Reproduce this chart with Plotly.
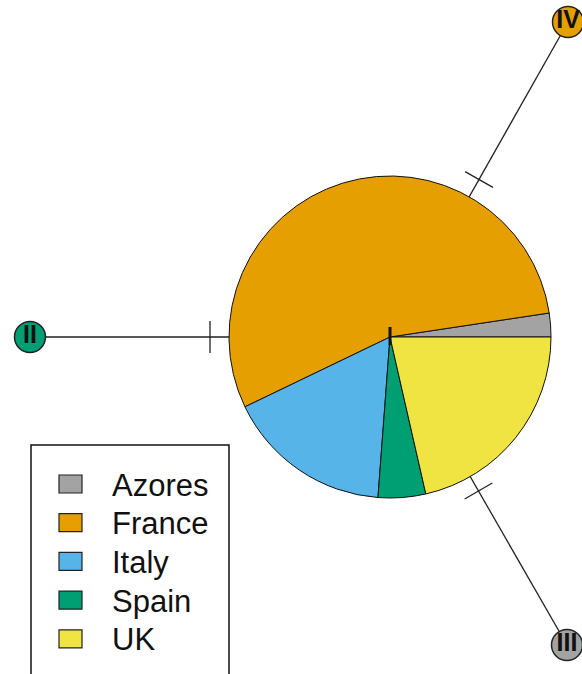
import plotly.graph_objects as go

W, H = 582, 674

# Haplotype I (hub) composition by population
categories = ["Azores", "France", "Italy", "Spain", "UK"]
counts = [1, 23, 7, 2, 9]
colors = ["#A3A3A3", "#E69F00", "#56B4E9", "#009E73", "#F0E442"]

# Hub position and radius (pixel-like plot units)
hub_x, hub_y, hub_r = 390, 337, 161

# Satellite haplotypes
node_names = ["II", "IV", "III"]
node_x = [30, 568, 567]
node_y = [337, 22, 645]
node_colors = ["#009E73", "#E69F00", "#A3A3A3"]
node_r = 15.5

fig = go.Figure()

# Links from hub to each satellite, with a mutation tick at the midpoint
shapes = []
for nx, ny in zip(node_x, node_y):
    fig.add_trace(go.Scatter(x=[hub_x, nx], y=[hub_y, ny], mode="lines",
                             line=dict(color="#222222", width=1.3),
                             hoverinfo="skip", showlegend=False))
    mx, my = (hub_x + nx) / 2, (hub_y + ny) / 2
    dx, dy = nx - hub_x, ny - hub_y
    L = (dx ** 2 + dy ** 2) ** 0.5
    px, py = -dy / L * 16, dx / L * 16
    fig.add_trace(go.Scatter(x=[mx - px, mx + px], y=[my - py, my + py], mode="lines",
                             line=dict(color="#222222", width=1.3),
                             hoverinfo="skip", showlegend=False))

# Satellite nodes
fig.add_trace(go.Scatter(
    x=node_x, y=node_y, mode="markers+text", text=node_names,
    textposition="middle center",
    textfont=dict(family="Liberation Sans Narrow, Liberation Sans, Arial", size=25, color="#111111",
                  weight="bold"),
    marker=dict(size=2 * node_r, color=node_colors, line=dict(color="#222222", width=1.5)),
    hoverinfo="skip", showlegend=False, cliponaxis=False))

# Hub pie: first slice starts at 3 o'clock and slices run counterclockwise
first_share = 360.0 * counts[0] / sum(counts)
fig.add_trace(go.Pie(
    labels=categories, values=counts, sort=False, direction="counterclockwise",
    rotation=90 - first_share, textinfo="none", hoverinfo="label+value",
    marker=dict(colors=colors, line=dict(color="#111111", width=1)),
    domain=dict(x=[(hub_x - hub_r) / W, (hub_x + hub_r) / W],
                y=[(H - hub_y - hub_r) / H, (H - hub_y + hub_r) / H]),
    showlegend=False))

# Legend box
leg_left, leg_top, leg_right = 31, 445, 229
row_y0, row_dy = 484, 38.7
shapes.append(dict(type="rect", xref="x", yref="y", x0=leg_left, x1=leg_right,
                   y0=leg_top, y1=H + 10, line=dict(color="#111111", width=1.5),
                   fillcolor="white", layer="above"))
annotations = []
for i, (cat, col) in enumerate(zip(categories, colors)):
    cy = row_y0 + i * row_dy
    shapes.append(dict(type="rect", xref="x", yref="y", x0=59, x1=82, y0=cy - 9, y1=cy + 9,
                       line=dict(color="#222222", width=1.2), fillcolor=col, layer="above"))
    annotations.append(dict(x=110, y=cy + 1, xref="x", yref="y", text=cat, showarrow=False,
                            xanchor="left", yanchor="middle",
                            font=dict(family="Liberation Sans, Arial", size=31, color="#111111")))

# Small dark mark at the hub centre
shapes.append(dict(type="line", xref="x", yref="y", x0=hub_x, x1=hub_x, y0=hub_y - 10,
                   y1=hub_y + 8, line=dict(color="#111111", width=3), layer="above"))

fig.update_layout(
    width=W, height=H, margin=dict(l=0, r=0, t=0, b=0),
    paper_bgcolor="white", plot_bgcolor="white",
    xaxis=dict(range=[0, W], visible=False, fixedrange=True),
    yaxis=dict(range=[H, 0], visible=False, fixedrange=True),
    shapes=shapes, annotations=annotations,
)

fig.write_html("out.html")
